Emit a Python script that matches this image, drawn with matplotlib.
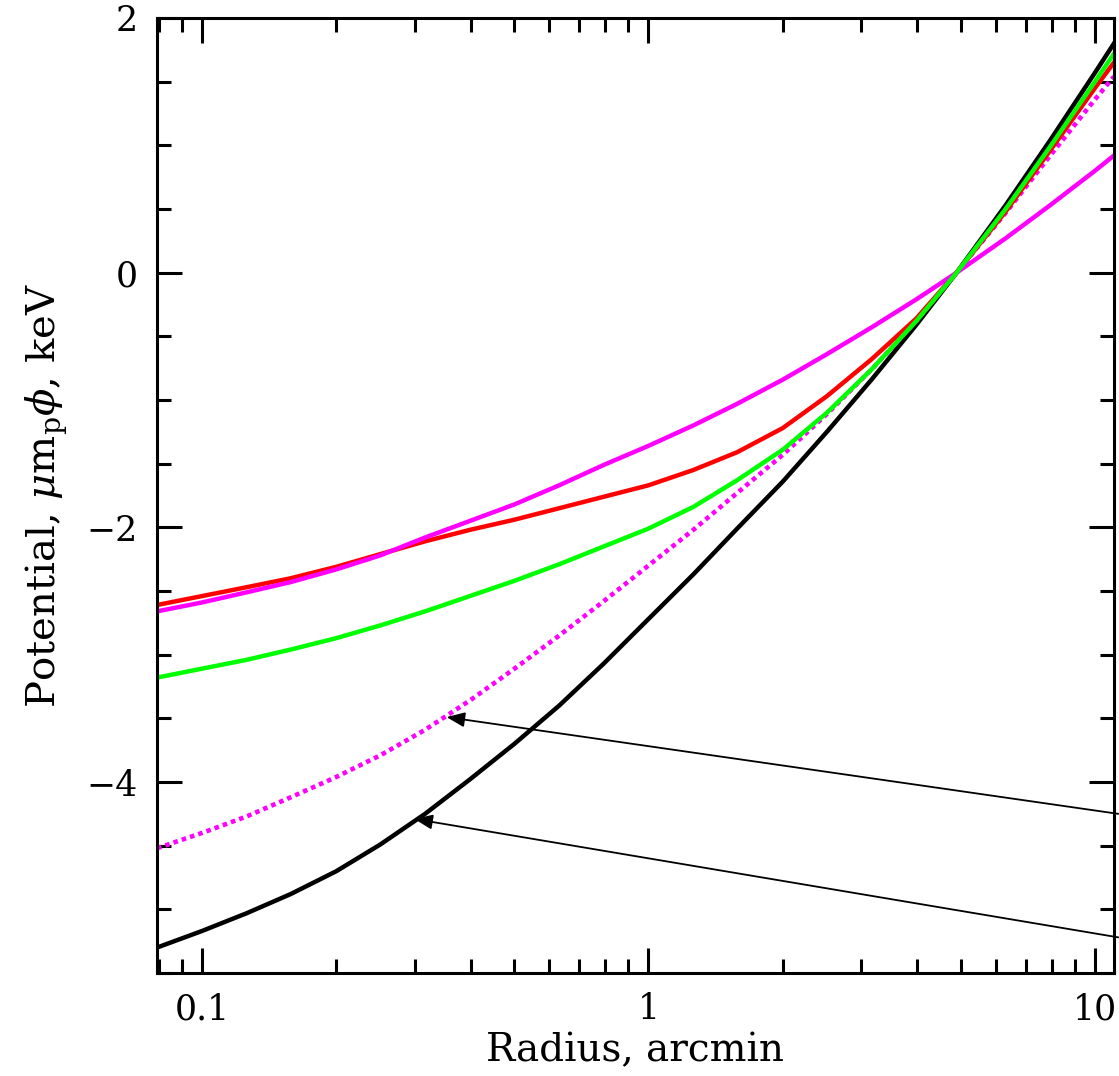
import matplotlib
matplotlib.use('Agg')
import matplotlib.pyplot as plt
from matplotlib.ticker import FixedLocator, NullFormatter, MultipleLocator, LogLocator

plt.rcParams['font.family'] = 'DejaVu Serif'
plt.rcParams['mathtext.fontset'] = 'dejavuserif'

radius = [0.0793, 0.1, 0.126, 0.158, 0.2, 0.251, 0.316, 0.398, 0.501, 0.631, 0.794,
          1.0, 1.26, 1.58, 2.0, 2.51, 3.16, 3.98, 4.9, 6.31, 7.94, 10.0, 11.03]

pot_black = [-5.30, -5.17, -5.03, -4.88, -4.70, -4.49, -4.25, -3.98, -3.70, -3.40, -3.07,
             -2.72, -2.37, -2.01, -1.64, -1.25, -0.84, -0.41, 0.0, 0.53, 1.04, 1.57, 1.80]
pot_magenta = [-2.66, -2.59, -2.51, -2.43, -2.33, -2.22, -2.08, -1.95, -1.82, -1.67, -1.51,
               -1.36, -1.20, -1.03, -0.84, -0.64, -0.43, -0.21, 0.0, 0.27, 0.53, 0.80, 0.92]
pot_red = [-2.61, -2.54, -2.47, -2.40, -2.31, -2.21, -2.11, -2.02, -1.94, -1.85, -1.76,
           -1.67, -1.55, -1.41, -1.22, -0.97, -0.68, -0.36, 0.0, 0.48, 0.96, 1.45, 1.65]
pot_green = [-3.18, -3.11, -3.04, -2.96, -2.87, -2.77, -2.66, -2.54, -2.42, -2.29, -2.15,
             -2.01, -1.84, -1.63, -1.39, -1.10, -0.76, -0.38, 0.0, 0.50, 0.99, 1.50, 1.72]
pot_dotted = [-4.52, -4.40, -4.27, -4.12, -3.96, -3.79, -3.59, -3.36, -3.11, -2.85, -2.58,
              -2.30, -2.02, -1.73, -1.43, -1.11, -0.76, -0.38, 0.0, 0.47, 0.92, 1.36, 1.54]

# arrows: (tail x, tail y) -> (tip x, tip y)
arrow_tails = [(11.28, -4.25), (11.28, -5.22)]
arrow_tips = [(0.353, -3.49), (0.299, -4.29)]

fig = plt.figure(figsize=(11.19, 10.76), dpi=100)
ax = fig.add_axes([0.1403, 0.0957, 0.8552, 0.8876])

ax.plot(radius, pot_black, color='black', linewidth=3.2)
ax.plot(radius, pot_dotted, color='#ff00ff', linewidth=3.3, linestyle=(0, (1.0, 0.9)),
        dash_capstyle='butt')
ax.plot(radius, pot_red, color='#ff0000', linewidth=3.2)
ax.plot(radius, pot_magenta, color='#ff00ff', linewidth=3.2)
ax.plot(radius, pot_green, color='#00ff00', linewidth=3.2)

for tail, tip in zip(arrow_tails, arrow_tips):
    ax.annotate('', xy=tip, xytext=tail, annotation_clip=False,
                arrowprops=dict(arrowstyle='-|>,head_length=1.1,head_width=0.45',
                                color='black', linewidth=1.3, shrinkA=0, shrinkB=0))

ax.set_xscale('log')
ax.set_xlim(0.0793, 11.03)
ax.set_ylim(-5.5, 2)

ax.xaxis.set_major_locator(FixedLocator([0.1, 1, 10]))
ax.xaxis.set_minor_locator(LogLocator(base=10, subs=range(2, 10)))
ax.xaxis.set_minor_formatter(NullFormatter())
ax.set_xticklabels(['0.1', '1', '10'])
ax.yaxis.set_major_locator(MultipleLocator(2))
ax.yaxis.set_minor_locator(MultipleLocator(0.5))

ax.tick_params(which='both', direction='in', top=True, right=True, width=2.2)
ax.tick_params(which='major', length=18, labelsize=25)
ax.tick_params(which='minor', length=10)
ax.tick_params(axis='y', which='major', pad=14)
ax.tick_params(axis='x', which='major', pad=14)
for s in ax.spines.values():
    s.set_linewidth(2.2)

ax.set_xlabel('Radius, arcmin', fontsize=28, labelpad=4)
ax.set_ylabel(r'Potential, $\mu$m$_{\rm p}\phi$, keV', fontsize=29, labelpad=12)

plt.savefig('out.png', dpi=100)
plt.close()
